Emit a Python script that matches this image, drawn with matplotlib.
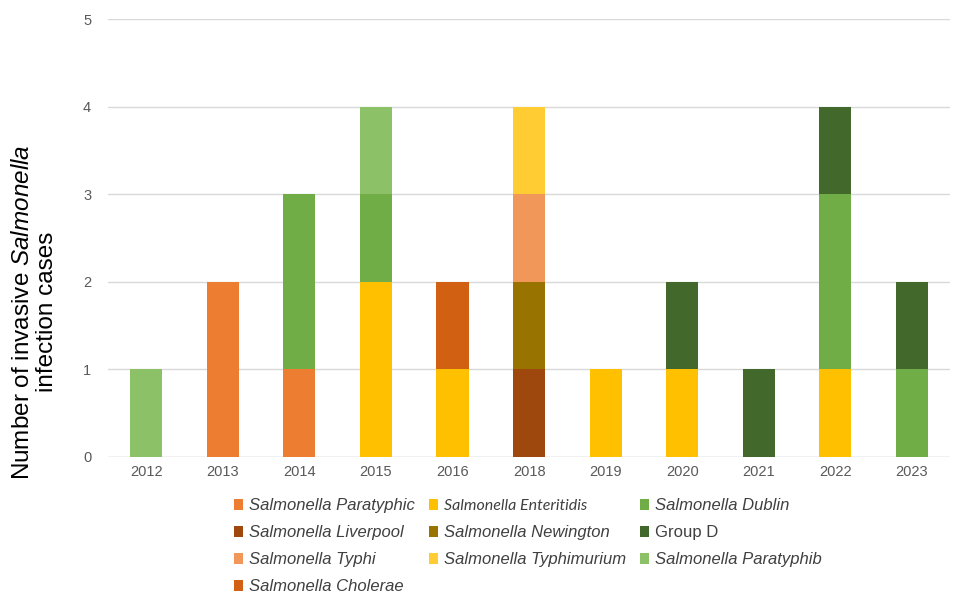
import matplotlib.pyplot as plt
import numpy as np

plt.rcParams['font.family'] = ['Liberation Sans', 'DejaVu Sans']
plt.rcParams['mathtext.fontset'] = 'custom'
plt.rcParams['mathtext.rm'] = 'Liberation Sans'
plt.rcParams['mathtext.it'] = 'Liberation Sans:italic'

years = ['2012', '2013', '2014', '2015', '2016', '2018', '2019', '2020', '2021', '2022', '2023']

# cases per serotype and year (stacking order bottom -> top)
paratyphic = [0, 2, 1, 0, 0, 0, 0, 0, 0, 0, 0]
enteritidis = [0, 0, 0, 2, 1, 0, 1, 1, 0, 1, 0]
dublin = [0, 0, 2, 1, 0, 0, 0, 0, 0, 2, 1]
liverpool = [0, 0, 0, 0, 0, 1, 0, 0, 0, 0, 0]
newington = [0, 0, 0, 0, 0, 1, 0, 0, 0, 0, 0]
group_d = [0, 0, 0, 0, 0, 0, 0, 1, 1, 1, 1]
typhi = [0, 0, 0, 0, 0, 1, 0, 0, 0, 0, 0]
typhimurium = [0, 0, 0, 0, 0, 1, 0, 0, 0, 0, 0]
paratyphib = [1, 0, 0, 1, 0, 0, 0, 0, 0, 0, 0]
cholerae = [0, 0, 0, 0, 1, 0, 0, 0, 0, 0, 0]

series = [
    ('Salmonella Paratyphic', paratyphic, '#ED7D31'),
    ('Salmonella Enteritidis', enteritidis, '#FFC000'),
    ('Salmonella Dublin', dublin, '#70AD47'),
    ('Salmonella Liverpool', liverpool, '#9E480E'),
    ('Salmonella Newington', newington, '#997300'),
    ('Group D', group_d, '#43682B'),
    ('Salmonella Typhi', typhi, '#F1975A'),
    ('Salmonella Typhimurium', typhimurium, '#FFCD33'),
    ('Salmonella Paratyphib', paratyphib, '#8CC168'),
    ('Salmonella Cholerae', cholerae, '#D26012'),
]

fig = plt.figure(figsize=(9.55, 5.94), dpi=100)
ax = fig.add_axes([0.113, 0.231, 0.882, 0.737])

x = np.arange(len(years))
bottom = np.zeros(len(years))
handles = {}
for name, vals, col in series:
    vals = np.array(vals, dtype=float)
    b = ax.bar(x, vals, 0.42, bottom=bottom, color=col, zorder=3)
    handles[name] = b
    bottom += vals

ax.set_xlim(-0.5, len(years) - 0.5)
ax.set_ylim(0, 5)
ax.set_yticks(range(6))
ax.set_xticks(x)
ax.set_xticklabels(years)
ax.grid(axis='y', color='#D9D9D9', linewidth=1, zorder=0)
for s in ax.spines.values():
    s.set_visible(False)
ax.axhline(0, color='#D9D9D9', linewidth=1, zorder=1)
ax.tick_params(axis='both', length=0, labelsize=10.5, labelcolor='#595959')
ax.tick_params(axis='y', pad=12)
ax.tick_params(axis='x', pad=6)

fig.text(0.037, 0.475, 'Number of invasive $\\it{Salmonella}$\ninfection cases',
         rotation=90, fontsize=17.5, ha='center', va='center', linespacing=1.1)

# legend laid out row-wise like the original (matplotlib fills column-wise)
order = ['Salmonella Paratyphic', 'Salmonella Liverpool', 'Salmonella Typhi', 'Salmonella Cholerae',
         'Salmonella Enteritidis', 'Salmonella Newington', 'Salmonella Typhimurium',
         'Salmonella Dublin', 'Group D', 'Salmonella Paratyphib']
leg = fig.legend([handles[n] for n in order], order, ncol=3, loc='upper left',
                 bbox_to_anchor=(0.236, 0.175), frameon=False, fontsize=12,
                 handlelength=0.55, handleheight=0.55, handletextpad=0.35,
                 columnspacing=0.85, labelspacing=0.72, borderpad=0)
for t in leg.get_texts():
    t.set_color('#404040')
    if t.get_text() != 'Group D':
        t.set_fontstyle('italic')
    if t.get_text() == 'Salmonella Enteritidis':
        t.set_family(['Lato', 'DejaVu Sans'])
        t.set_fontsize(11.5)

fig.savefig('out.png', dpi=100)
